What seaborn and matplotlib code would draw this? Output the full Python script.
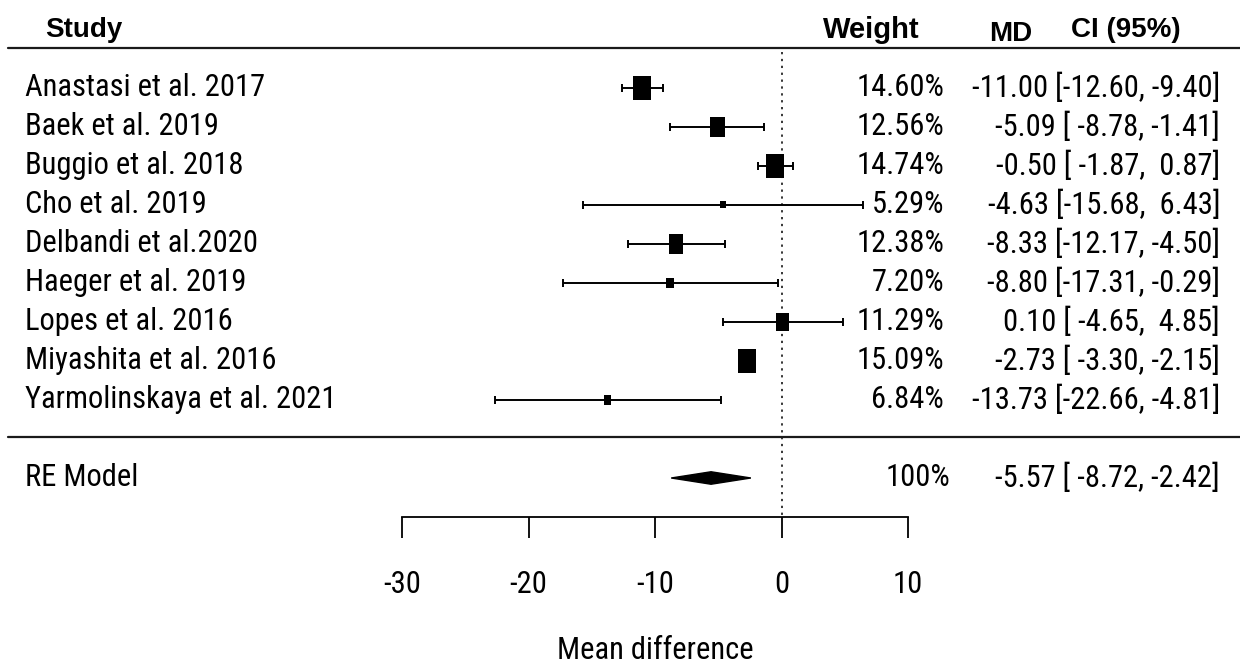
import numpy as np
import pandas as pd
import matplotlib
matplotlib.use("Agg")
import matplotlib.pyplot as plt
import seaborn as sns

# data
studies = ["Anastasi et al. 2017", "Baek et al. 2019", "Buggio et al. 2018",
           "Cho et al. 2019", "Delbandi et al.2020", "Haeger et al. 2019",
           "Lopes et al. 2016", "Miyashita et al. 2016", "Yarmolinskaya et al. 2021"]
weights = [14.60, 12.56, 14.74, 5.29, 12.38, 7.20, 11.29, 15.09, 6.84]
md = [-11.00, -5.09, -0.50, -4.63, -8.33, -8.80, 0.10, -2.73, -13.73]
ci_lo = [-12.60, -8.78, -1.87, -15.68, -12.17, -17.31, -4.65, -3.30, -22.66]
ci_hi = [-9.40, -1.41, 0.87, 6.43, -4.50, -0.29, 4.85, -2.15, -4.81]
re_label = "RE Model"
re_est, re_lo, re_hi = -5.57, -8.72, -2.42
xticks = [-30, -20, -10, 0, 10]

df = pd.DataFrame({"study": studies, "weight": weights, "md": md,
                   "lo": ci_lo, "hi": ci_hi})
df["row"] = np.arange(1, len(df) + 1)
re_row = len(df) + 2

sns.set_theme(style="white")
plt.rcParams['font.family'] = ['Roboto Condensed', 'Liberation Sans', 'DejaVu Sans']
plt.rcParams['text.color'] = 'black'
plt.rcParams['xtick.color'] = 'black'
FS = 22
BOLD = ['Liberation Sans', 'DejaVu Sans']  # the condensed face has no bold

W, H = 1240, 668
fig = plt.figure(figsize=(W / 100, H / 100), dpi=100)
ax = fig.add_axes([0, 0, 1, 1])

# map reference pixels onto data coords
PX_M30, PX_P10 = 402, 908
ppu = (PX_P10 - PX_M30) / 40
x_left = -30 - PX_M30 / ppu
x_right = -30 + (W - PX_M30) / ppu
ROW0, ROWH = 88, 39
ax.set_xlim(x_left, x_right)
ax.set_ylim(1 + (H - ROW0) / ROWH, 1 - ROW0 / ROWH)


def px(xp):
    return x_left + xp / ppu


def py(yp):
    return 1 + (yp - ROW0) / ROWH


# confidence intervals
ax.errorbar(df["md"], df["row"], xerr=[df["md"] - df["lo"], df["hi"] - df["md"]],
            fmt="none", ecolor="black", elinewidth=1.4, capsize=3, capthick=1.4, zorder=2)

# squares sized by weight (slightly tall boxes, like the reference)
box = [(-0.375, -0.5), (0.375, -0.5), (0.375, 0.5), (-0.375, 0.5), (-0.375, -0.5)]
wmin, wmax = min(weights), max(weights)
size_map = {w: ((7 + 17.5 * (w - wmin) / (wmax - wmin)) * 0.72) ** 2 for w in weights}
sns.scatterplot(data=df, x="md", y="row", size="weight", sizes=size_map,
                marker=box, color="black", edgecolor="black", linewidth=0,
                legend=False, ax=ax, zorder=3)

# summary diamond
ax.fill([re_lo, re_est, re_hi, re_est],
        [re_row, re_row - 0.16, re_row, re_row + 0.16], color="black", zorder=3)

# reference line at zero
ax.plot([0, 0], [py(52), py(517)], color="black", lw=1.1, ls=(0, (1.5, 3)), zorder=1)

# header / separator rules
for yp in (48, 437):
    ax.plot([px(8), x_right], [py(yp), py(yp)], color="#1a1a1a", lw=1.6)

# x axis
ax.spines['bottom'].set_position(('data', py(517)))
ax.spines['bottom'].set_bounds(-30, 10)
ax.spines['bottom'].set_linewidth(1.3)
ax.spines['bottom'].set_color("black")
for s in ('top', 'left', 'right'):
    ax.spines[s].set_visible(False)
ax.set_xticks(xticks)
ax.set_xticklabels([str(t) for t in xticks])
ax.set_yticks([])
ax.tick_params(axis='x', bottom=True, direction='out', length=15, width=1.3,
               color="black", labelcolor="black", labelsize=FS, pad=23)
ax.set_xlabel("")
ax.set_ylabel("")
ax.text(-10, py(651), "Mean difference", ha="center", va="center", fontsize=FS)

# header
ax.text(px(45), py(30), "Study", ha="left", va="center", fontsize=20,
        fontweight="bold", family=BOLD)
ax.text(px(871), py(30), "Weight", ha="center", va="center", fontsize=21,
        fontweight="bold", family=BOLD)
ax.text(px(1011), py(34), "MD", ha="center", va="center", fontsize=20,
        fontweight="bold", family=BOLD)
ax.text(px(1126), py(30), "CI (95%)", ha="center", va="center", fontsize=20,
        fontweight="bold", family=BOLD)

# table columns
for _, r in df.iterrows():
    ax.text(px(25), r["row"], r["study"], ha="left", va="center", fontsize=FS)
    ax.text(px(944), r["row"], f"{r['weight']:.2f}%", ha="right", va="center", fontsize=FS)
    ax.text(px(1220), r["row"],
            f"{r['md']:.2f} [{r['lo']:6.2f}, {r['hi']:5.2f}]",
            ha="right", va="center", fontsize=FS)

ax.text(px(25), re_row, re_label, ha="left", va="center", fontsize=FS)
ax.text(px(950), re_row, "100%", ha="right", va="center", fontsize=FS)
ax.text(px(1220), re_row, f"{re_est:.2f} [{re_lo:6.2f}, {re_hi:5.2f}]",
        ha="right", va="center", fontsize=FS)

fig.savefig("out.png", dpi=100)
